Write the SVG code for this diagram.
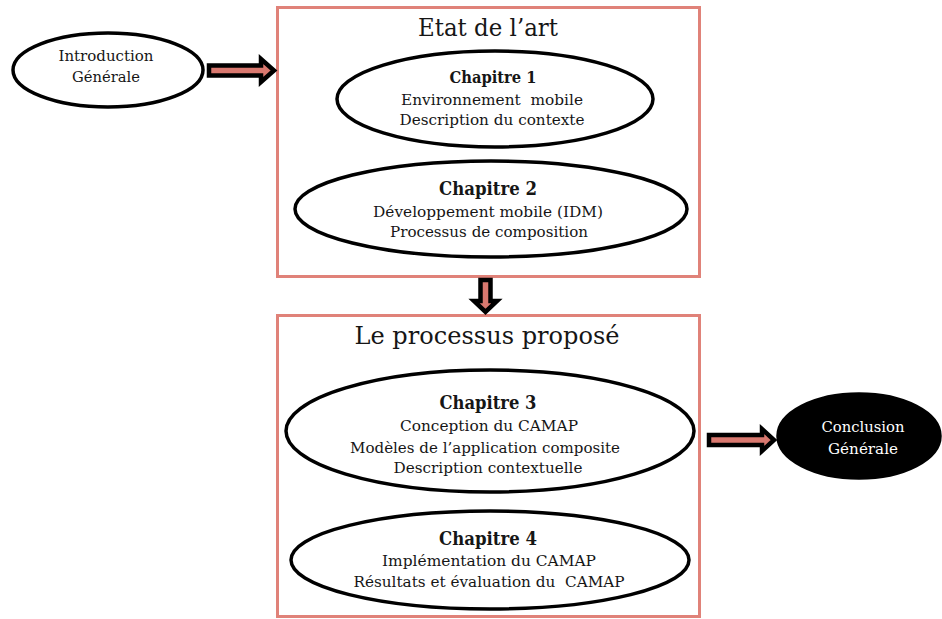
<svg xmlns="http://www.w3.org/2000/svg" width="942" height="619" viewBox="0 0 942 619">
  <style>
    .frame { fill: #ffffff; stroke: #E08279; stroke-width: 3; }
    .node { fill: #ffffff; stroke: #000000; stroke-width: 3.5; }
    .dark { fill: #000000; stroke: #000000; stroke-width: 3.5; }
    .arrow { fill: #D9786F; stroke: #000000; stroke-width: 4.5; stroke-linejoin: miter; }
    text { font-family: "DejaVu Serif", "Liberation Serif", serif; fill: #161616; text-anchor: middle; }
    .title { font-size: 25px; }
    .head { font-size: 19px; font-weight: bold; }
    .head1 { font-size: 16px; font-weight: bold; }
    .line { font-size: 15px; }
    .light { fill: #ffffff; }
  </style>
  <rect width="942" height="619" fill="#ffffff"/>

  <!-- section frames -->
  <g id="etat-de-l-art">
    <rect class="frame" x="277.5" y="7.5" width="422" height="269"/>
    <text class="title" x="488" y="36" textLength="140" lengthAdjust="spacingAndGlyphs">Etat de l’art</text>
  </g>
  <g id="processus-propose">
    <rect class="frame" x="277.5" y="315.5" width="422" height="301"/>
    <text class="title" x="487" y="344" textLength="265" lengthAdjust="spacingAndGlyphs">Le processus proposé</text>
  </g>

  <!-- connectors -->
  <g id="connectors">
    <polygon class="arrow" points="209,65.5 261,65.5 261,59 274,70.5 261,82 261,75.5 209,75.5"/>
    <polygon class="arrow" points="480.5,280 490.5,280 490.5,301 497,301 485.5,312 474,301 480.5,301"/>
    <polygon class="arrow" points="709,435 762,435 762,429 774,440 762,451 762,445 709,445"/>
  </g>

  <g id="introduction">
    <ellipse class="node" cx="108" cy="70" rx="95" ry="37"/>
    <text class="line" x="106" y="61" textLength="95" lengthAdjust="spacingAndGlyphs">Introduction</text>
    <text class="line" x="106" y="82" textLength="68" lengthAdjust="spacingAndGlyphs">Générale</text>
  </g>

  <g id="chapitre-1">
    <ellipse class="node" cx="495" cy="99" rx="158" ry="48"/>
    <text class="head1" x="493" y="83" textLength="87" lengthAdjust="spacingAndGlyphs">Chapitre 1</text>
    <text class="line" x="492" y="105" textLength="182" lengthAdjust="spacingAndGlyphs" xml:space="preserve">Environnement  mobile</text>
    <text class="line" x="492" y="125" textLength="185" lengthAdjust="spacingAndGlyphs">Description du contexte</text>
  </g>

  <g id="chapitre-2">
    <ellipse class="node" cx="491" cy="209" rx="196" ry="48"/>
    <text class="head" x="488" y="195" textLength="98" lengthAdjust="spacingAndGlyphs">Chapitre 2</text>
    <text class="line" x="488" y="217" textLength="230" lengthAdjust="spacingAndGlyphs">Développement mobile (IDM)</text>
    <text class="line" x="489" y="237" textLength="198" lengthAdjust="spacingAndGlyphs">Processus de composition</text>
  </g>

  <g id="chapitre-3">
    <ellipse class="node" cx="490" cy="431" rx="204" ry="61"/>
    <text class="head" x="488" y="409" textLength="97" lengthAdjust="spacingAndGlyphs">Chapitre 3</text>
    <text class="line" x="489" y="431" textLength="178" lengthAdjust="spacingAndGlyphs">Conception du CAMAP</text>
    <text class="line" x="485" y="453" textLength="270" lengthAdjust="spacingAndGlyphs">Modèles de l’application composite</text>
    <text class="line" x="488" y="473" textLength="189" lengthAdjust="spacingAndGlyphs">Description contextuelle</text>
  </g>

  <g id="chapitre-4">
    <ellipse class="node" cx="490" cy="560" rx="199" ry="49"/>
    <text class="head" x="488" y="545" textLength="98" lengthAdjust="spacingAndGlyphs">Chapitre 4</text>
    <text class="line" x="489" y="566" textLength="214" lengthAdjust="spacingAndGlyphs">Implémentation du CAMAP</text>
    <text class="line" x="489" y="587" textLength="271" lengthAdjust="spacingAndGlyphs" xml:space="preserve">Résultats et évaluation du  CAMAP</text>
  </g>

  <g id="conclusion">
    <ellipse class="dark" cx="859" cy="436" rx="81" ry="42"/>
    <text class="line light" x="863" y="432" textLength="83" lengthAdjust="spacingAndGlyphs">Conclusion</text>
    <text class="line light" x="863" y="454" textLength="70" lengthAdjust="spacingAndGlyphs">Générale</text>
  </g>
</svg>
